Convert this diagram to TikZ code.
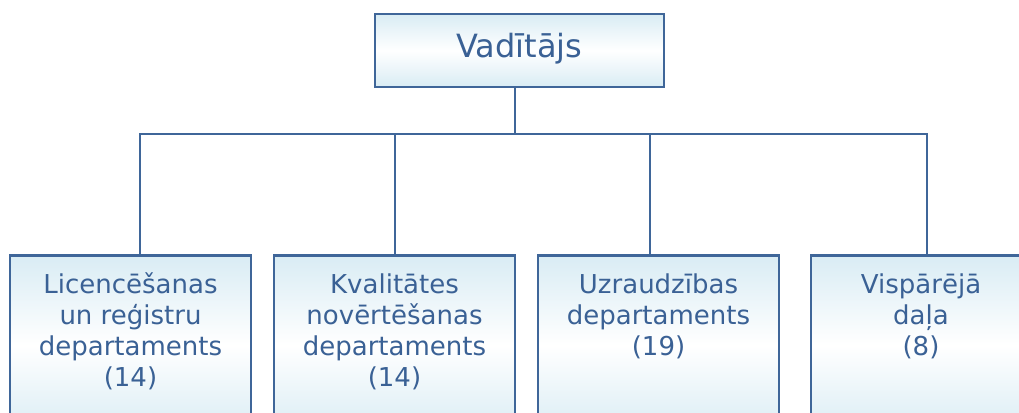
\documentclass[tikz,border=0pt]{standalone}
\usepackage{fontspec}
\setmainfont{DejaVu Sans}
\usetikzlibrary{calc}
\definecolor{edge}{HTML}{3F6699}
\definecolor{ink}{HTML}{3A6195}
\definecolor{pale}{HTML}{D9ECF4}
\tikzset{
  box/.style={draw=edge, line width=2pt, rectangle, inner sep=0pt,
    top color=pale, bottom color=pale, middle color=white},
  conn/.style={draw=edge, line width=2pt},
  lbl/.style={text=ink, align=center, inner sep=0pt, anchor=north,
    font=\fontsize{19.5}{23.3}\selectfont}
}
\begin{document}
\begin{tikzpicture}[x=0.75pt,y=-0.75pt]
\useasboundingbox (0,0) rectangle (1019,412);
\begin{scope}
\clip (0,0) rectangle (1019,412);
\node[box, minimum width=216.75pt, minimum height=54.75pt, text=ink,
  font=\fontsize{24}{28}\selectfont, text height=15pt, text depth=5.25pt]
  (top) at (519.5,50.5) {Vadītājs};
\node[box, minimum width=180.75pt, minimum height=135pt, anchor=north] (b1) at (130.5,254) {};
\node[box, minimum width=180.75pt, minimum height=135pt, anchor=north] (b2) at (394.5,254) {};
\node[box, minimum width=180.75pt, minimum height=135pt, anchor=north] (b3) at (658.5,254) {};
\node[box, minimum width=165pt, minimum height=135pt, anchor=north] (b4) at (921,254) {};
\node[lbl] (t1) at (130.5,266.33) {\rule{0pt}{20pt}Licencēšanas\\un reģistru\\departaments\\(14)};
\node[lbl] (t2) at (394.5,266.33) {\rule{0pt}{20pt}Kvalitātes\\novērtēšanas\\departaments\\(14)};
\node[lbl] (t3) at (658.5,266.33) {\rule{0pt}{20pt}Uzraudzības\\departaments\\(19)};
\node[lbl] (t4) at (921,266.33) {\rule{0pt}{20pt}Vispārējā\\daļa\\(8)};
\coordinate (c0) at ($(top.south)+(-4.5,0)$);
\coordinate (bus) at (515,134);
\coordinate (c1) at ($(b1.north)+(9.5,0)$);
\coordinate (c2) at ($(b2.north)+(0.5,0)$);
\coordinate (c3) at ($(b3.north)+(-8.5,0)$);
\coordinate (c4) at ($(b4.north)+(6,0)$);
\draw[conn] (c0) -- (c0 |- bus);
\draw[conn] (c1) -- (c1 |- bus) -- (c4 |- bus) -- (c4);
\draw[conn] (c2) -- (c2 |- bus);
\draw[conn] (c3) -- (c3 |- bus);
\end{scope}
\end{tikzpicture}
\end{document}
